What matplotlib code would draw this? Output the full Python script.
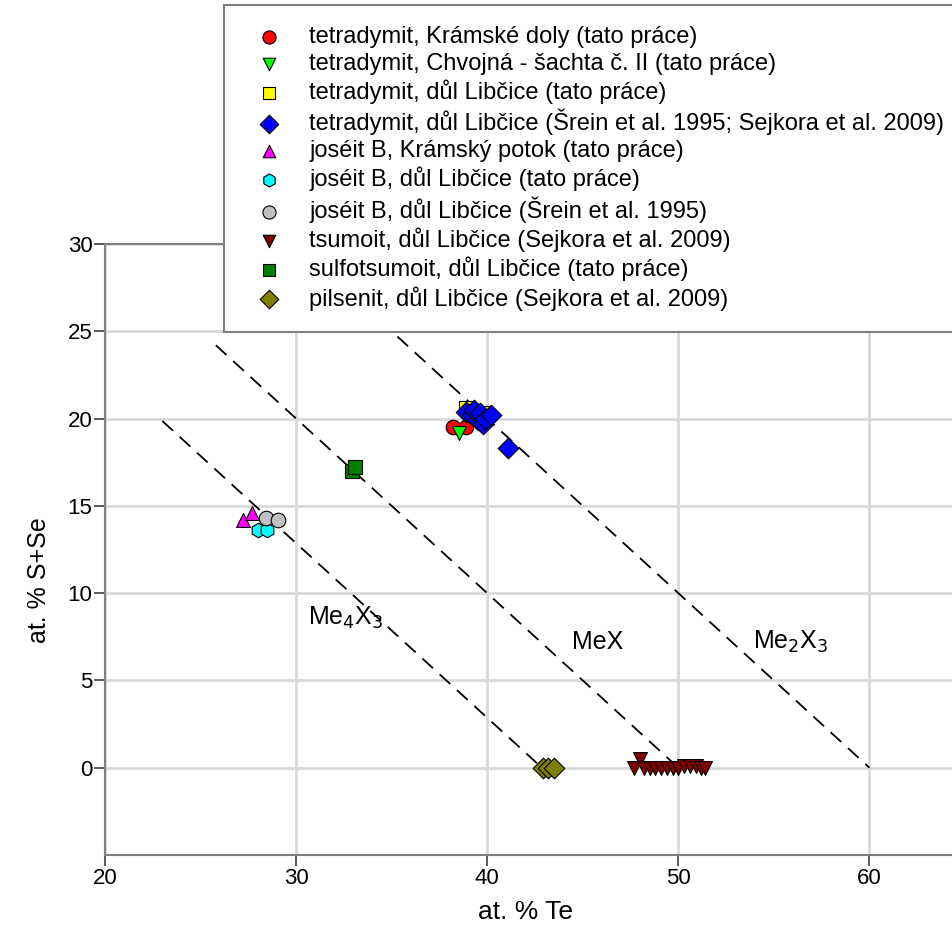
import matplotlib.pyplot as plt

plt.rcParams['font.family'] = ['Liberation Sans', 'DejaVu Sans']

# data (at. % Te, at. % S+Se)
tet_kramske_te = [38.2, 38.9]
tet_kramske_s = [19.5, 19.5]
tet_chvojna_te = [38.5]
tet_chvojna_s = [19.2]
tet_libcice_te = [38.9, 39.8]
tet_libcice_s = [20.6, 20.3]
tet_srein_te = [38.9, 39.2, 39.5, 39.8, 39.3, 39.6, 39.9, 40.2, 41.1]
tet_srein_s = [20.4, 20.2, 19.9, 19.7, 20.5, 20.3, 20.0, 20.2, 18.3]
jos_kramsky_te = [27.2, 27.7]
jos_kramsky_s = [14.2, 14.6]
jos_libcice_te = [28.0, 28.5]
jos_libcice_s = [13.6, 13.6]
jos_srein_te = [28.4, 29.05]
jos_srein_s = [14.3, 14.2]
tsumoit_te = [47.7, 48.0, 48.2, 48.5, 48.8, 49.1, 49.4, 49.7, 50.0, 50.3, 50.6, 50.9, 51.2, 51.4]
tsumoit_s = [0.0, 0.5, 0.0, 0.0, 0.0, 0.0, 0.0, 0.0, 0.0, 0.1, 0.1, 0.1, 0.0, 0.0]
sulfo_te = [32.95, 33.1]
sulfo_s = [17.0, 17.2]
pilsenit_te = [42.9, 43.2, 43.5]
pilsenit_s = [0.0, 0.0, 0.0]

# stoichiometry lines: Te + S + Se = const, start points
line_sums = [42.86, 50.0, 60.0]
line_start = [23.0, 25.8, 35.3]
line_labels = ['Me$_4$X$_3$', 'MeX', 'Me$_2$X$_3$']
label_pos = [(32.6, 8.6), (45.8, 7.2), (55.9, 7.2)]

series = [
    (tet_kramske_te, tet_kramske_s, 'o', '#ff0000', 'tetradymit, Krámské doly (tato práce)'),
    (tet_chvojna_te, tet_chvojna_s, 'v', '#00ff00', 'tetradymit, Chvojná - šachta č. II (tato práce)'),
    (tet_libcice_te, tet_libcice_s, 's', '#ffff00', 'tetradymit, důl Libčice (tato práce)'),
    (tet_srein_te, tet_srein_s, 'D', '#0000ff', 'tetradymit, důl Libčice (Šrein et al. 1995; Sejkora et al. 2009)'),
    (jos_kramsky_te, jos_kramsky_s, '^', '#ff00ff', 'joséit B, Krámský potok (tato práce)'),
    (jos_libcice_te, jos_libcice_s, 'h', '#00ffff', 'joséit B, důl Libčice (tato práce)'),
    (jos_srein_te, jos_srein_s, 'o', '#c0c0c0', 'joséit B, důl Libčice (Šrein et al. 1995)'),
    (tsumoit_te, tsumoit_s, 'v', '#800000', 'tsumoit, důl Libčice (Sejkora et al. 2009)'),
    (sulfo_te, sulfo_s, 's', '#008000', 'sulfotsumoit, důl Libčice (tato práce)'),
    (pilsenit_te, pilsenit_s, 'D', '#808000', 'pilsenit, důl Libčice (Sejkora et al. 2009)'),
]

fig = plt.figure(figsize=(9.52, 9.27), dpi=100)
ax_w = 860.0  # axes width in pixels, runs past the right edge like the original
ax = fig.add_axes([105 / 952, 72 / 927, ax_w / 952, 611 / 927])
ax.set_xlim(20, 65)
ax.set_ylim(-5, 30)
ax.set_xticks([20, 30, 40, 50, 60])
ax.set_yticks([0, 5, 10, 15, 20, 25, 30])
ax.grid(True, color='#d9d9d9', lw=2)
ax.set_axisbelow(True)
for sp in ax.spines.values():
    sp.set_color('#808080')
    sp.set_linewidth(1.5)
ax.tick_params(direction='out', length=8, width=1.2, color='#404040', labelsize=16, pad=1)

for s, x0, lab, pos in zip(line_sums, line_start, line_labels, label_pos):
    ax.plot([x0, s], [s - x0, 0], ls=(0, (8, 5)), color='black', lw=1.3, zorder=2)
    ax.text(pos[0], pos[1], lab, fontsize=18, ha='center', va='center')

handles = []
for xs, ys, m, c, lab in series:
    sz = 110 if m in ('D', 'h', 'o') else 100
    h = ax.scatter(xs, ys, marker=m, s=sz, c=c, edgecolors='black', linewidths=0.8,
                   zorder=3, label=lab)
    handles.append(h)

ax.set_xlabel('at. % Te', fontsize=19)
ax.set_ylabel('at. % S+Se', fontsize=18)
ax.xaxis.set_label_coords((526 - 105) / ax_w, -(900 - 855) / 611)
ax.yaxis.set_label_coords(-(105 - 51) / ax_w, (855 - 580) / 611)

leg = fig.legend(handles=handles, loc='upper left', bbox_to_anchor=(224 / 952, 1 - 5 / 927),
                 fontsize=17, frameon=True, fancybox=False, edgecolor='#808080',
                 framealpha=1, labelspacing=0.2, handletextpad=0.72, borderpad=0.9,
                 borderaxespad=0, markerscale=0.9, handlelength=2.0)
leg.get_frame().set_linewidth(1.5)

fig.savefig('out.png', dpi=100)
